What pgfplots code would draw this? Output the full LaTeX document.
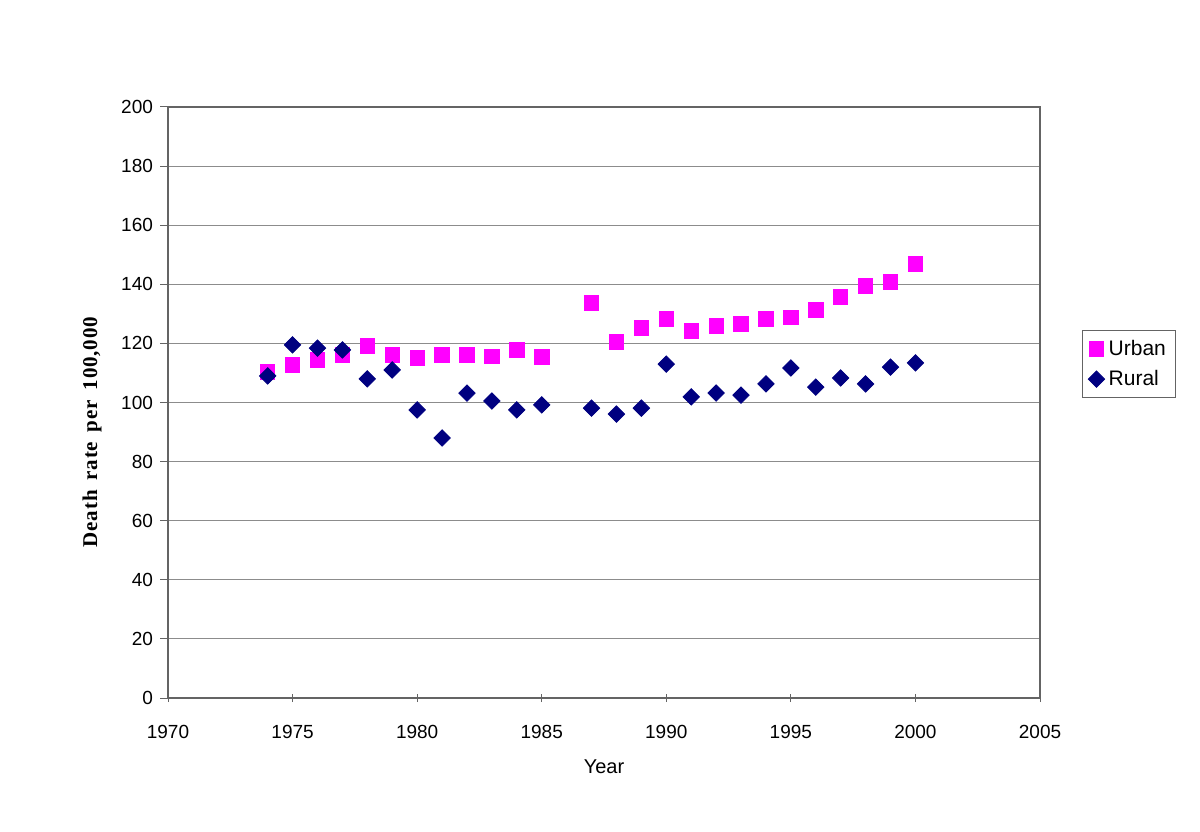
\documentclass[border=0pt]{standalone}
\usepackage{fontspec}
\setmainfont{Liberation Sans}
\newfontfamily\serifbold{Liberation Serif}[WordSpace=1.6, LetterSpace=4]
\usepackage{pgfplots}
\pgfplotsset{compat=1.18}
\definecolor{urban}{RGB}{255,0,255}
\definecolor{rural}{RGB}{0,0,128}
\definecolor{gridgray}{RGB}{140,140,140}
\definecolor{axisgray}{RGB}{100,100,100}
\begin{document}
\begin{tikzpicture}
\useasboundingbox (0,0) rectangle (600pt,415.5pt);
\begin{axis}[
    at={(84pt,66.5pt)}, anchor=south west,
    scale only axis,
    width=436pt, height=295.5pt,
    xmin=1970, xmax=2005,
    ymin=0, ymax=200,
    xtick={1970,1975,...,2005},
    ytick={0,20,...,200},
    tick pos=left,
    /pgf/number format/1000 sep={},
    /pgf/number format/assume math mode=true,
    ymajorgrids,
    major grid style={gridgray, line width=0.45pt},
    axis line style={axisgray, line width=0.9pt},
    tick style={axisgray, line width=0.5pt},
    xtick align=center,
    ytick align=outside,
    major tick length=4pt,
    tick label style={font=\fontsize{9.5}{11}\selectfont},
    xticklabel style={yshift=-8pt},
    xlabel={Year},
    xlabel style={font=\fontsize{10}{12}\selectfont, yshift=-3.5pt},
    ylabel={\serifbold\bfseries Death rate per 100,000},
    ylabel style={at={(rel axis cs:-0.087,0.45)}, anchor=center, font=\fontsize{10.5}{12}\selectfont},
    legend style={at={(1.048,0.565)}, anchor=west, draw=axisgray,
        font=\fontsize{10.5}{12}\selectfont, row sep=2pt, inner xsep=3pt, inner ysep=2.5pt},
    legend cell align=left,
    legend image code/.code={\draw[#1] plot coordinates {(0.2cm,0cm)};},
  ]
\addplot[only marks, mark=square*, mark size=3.6pt, color=urban] coordinates {
 (1974,110.3) (1975,112.7) (1976,114.4) (1977,116.1) (1978,119.1) (1979,116.1)
 (1980,115.1) (1981,116.1) (1982,116.1) (1983,115.7) (1984,117.8) (1985,115.4)
 (1987,133.7) (1988,120.5) (1989,125.2) (1990,128.3) (1991,124.2) (1992,125.9)
 (1993,126.6) (1994,128.3) (1995,128.9) (1996,131.3) (1997,135.7) (1998,139.4)
 (1999,140.8) (2000,146.9)
};
\addlegendentry{Urban}
\addplot[only marks, mark=square*, mark size=2.9pt, mark options={rotate=45}, color=rural] coordinates {
 (1974,109.0) (1975,119.5) (1976,118.4) (1977,117.8) (1978,108.0) (1979,111.0)
 (1980,97.5) (1981,88.0) (1982,103.2) (1983,100.5) (1984,97.5) (1985,99.2)
 (1987,98.1) (1988,96.1) (1989,98.1) (1990,113.0) (1991,101.9) (1992,103.2)
 (1993,102.5) (1994,106.3) (1995,111.7) (1996,105.2) (1997,108.3) (1998,106.3)
 (1999,112.0) (2000,113.4)
};
\addlegendentry{Rural}
\end{axis}
\end{tikzpicture}
\end{document}
